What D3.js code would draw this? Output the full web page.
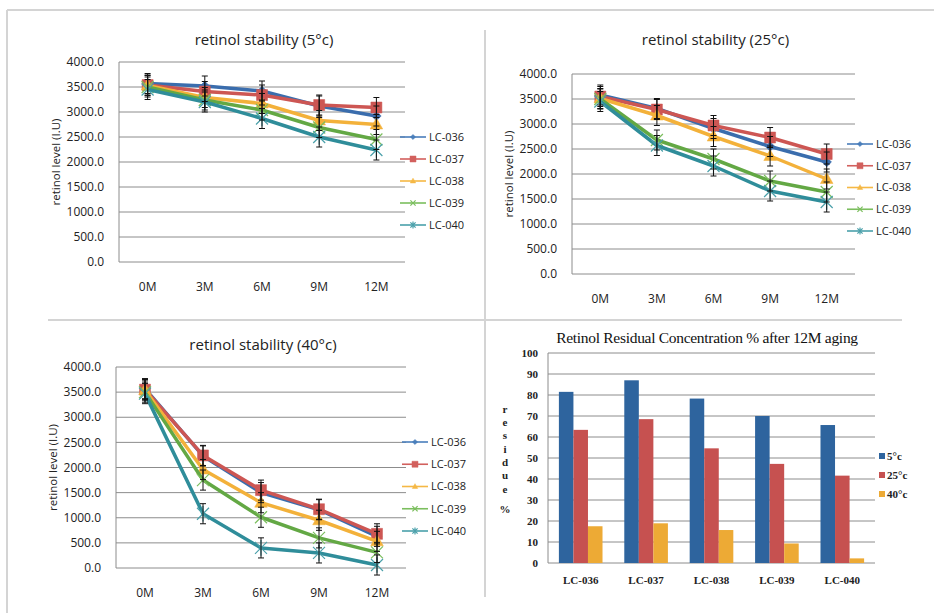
<!DOCTYPE html>
<html>
<head>
<meta charset="utf-8">
<script src="https://cdn.jsdelivr.net/npm/d3@7"></script>
<style>
  body { margin: 0; background: #fff; }
  svg { display: block; }
</style>
</head>
<body>
<svg id="chart" width="934" height="613"></svg>
<script>
// months on the x axis and the five samples
let months = ['0M', '3M', '6M', '9M', '12M']
let samples = ['LC-036', 'LC-037', 'LC-038', 'LC-039', 'LC-040']

// retinol level (I.U), one row per sample
let level5 = [
  [3570, 3520, 3420, 3120, 2920],
  [3540, 3410, 3340, 3140, 3090],
  [3530, 3290, 3170, 2830, 2750],
  [3500, 3240, 3040, 2690, 2450],
  [3450, 3200, 2870, 2500, 2240]
]
let level25 = [
  [3580, 3310, 2910, 2550, 2240],
  [3550, 3290, 2970, 2730, 2400],
  [3510, 3170, 2750, 2360, 1900],
  [3500, 2680, 2300, 1860, 1640],
  [3450, 2570, 2160, 1660, 1440]
]
let level40 = [
  [3570, 2230, 1500, 1160, 630],
  [3550, 2240, 1550, 1170, 680],
  [3540, 1960, 1300, 950, 530],
  [3500, 1750, 1010, 600, 310],
  [3470, 1080, 400, 300, 60]
]
let errorValue = 200
let levelTicks = [0, 500, 1000, 1500, 2000, 2500, 3000, 3500, 4000]

// residue % after 12M
let temps = ['5°c', '25°c', '40°c']
let residue5 = [81.5, 87.0, 78.3, 70.0, 65.7]
let residue25 = [63.4, 68.5, 54.6, 47.2, 41.6]
let residue40 = [17.5, 18.9, 15.7, 9.3, 2.2]
let residueTicks = [0, 10, 20, 30, 40, 50, 60, 70, 80, 90, 100]

let lineColors = ['#3A6DAD', '#CD5653', '#F3B13A', '#63A844', '#2F8D9A']
let legendColors = ['#4A7EBB', '#D2605D', '#F5B845', '#7BBE5E', '#4AA0AA']
let barColors = ['#2E649E', '#C65150', '#EDAA35']
let markers = ['diamond', 'square', 'triangle', 'x', 'star']

let svg = d3.select('#chart')
let sans = "'Open Sans', sans-serif"
let serif = "'Liberation Serif', 'Times New Roman', serif"

// frame lines around the four panels
let frame = [
  [7, 10, 934, 10],
  [7, 10, 7, 613],
  [485, 30, 485, 597],
  [48, 320, 902, 320]
]
svg.selectAll('.frame')
  .data(frame)
  .enter()
  .append('line')
  .attr('x1', d => d[0]).attr('y1', d => d[1])
  .attr('x2', d => d[2]).attr('y2', d => d[3])
  .attr('stroke', '#d4d4d4')
  .attr('stroke-width', 2)

function markerPath(type, s) {
  if (type === 'diamond') return `M0,${-s}L${s},0L0,${s}L${-s},0Z`
  if (type === 'square') return `M${-s},${-s}H${s}V${s}H${-s}Z`
  if (type === 'triangle') return `M0,${-s * 1.1}L${s * 1.05},${s * 0.75}L${-s * 1.05},${s * 0.75}Z`
  if (type === 'x') return `M${-s},${-s}L${s},${s}M${-s},${s}L${s},${-s}`
  return `M${-s},${-s}L${s},${s}M${-s},${s}L${s},${-s}M0,${-s * 1.3}V${s * 1.3}`
}

function drawMarker(g, type, color, s) {
  let stroked = type === 'x' || type === 'star'
  g.append('path')
    .attr('d', markerPath(type, s))
    .attr('fill', stroked ? 'none' : color)
    .attr('stroke', color)
    .attr('stroke-width', stroked ? 1.2 : 0.5)
}

function drawLevelChart(p) {
  let g = svg.append('g')

  let x = d3.scaleBand().domain(months).range([p.left, p.right])
  let y = d3.scaleLinear().domain([0, 4000]).range([p.bottom, p.top])

  g.selectAll('.grid')
    .data(levelTicks)
    .enter()
    .append('line')
    .attr('x1', p.left).attr('x2', p.right)
    .attr('y1', d => y(d)).attr('y2', d => y(d))
    .attr('stroke', '#8c8c8c')
    .attr('stroke-width', 1)

  g.append('line')
    .attr('x1', p.left).attr('x2', p.left)
    .attr('y1', p.top).attr('y2', p.bottom)
    .attr('stroke', '#8c8c8c')

  g.selectAll('.ytick')
    .data(levelTicks)
    .enter()
    .append('text')
    .attr('x', p.left - 15)
    .attr('y', d => y(d))
    .attr('dy', '0.35em')
    .attr('text-anchor', 'end')
    .attr('font-family', sans)
    .attr('font-size', 12)
    .attr('fill', '#222')
    .text(d => d.toFixed(1))

  g.selectAll('.xtick')
    .data(months)
    .enter()
    .append('text')
    .attr('x', d => x(d) + x.bandwidth() / 2)
    .attr('y', p.bottom + 29)
    .attr('text-anchor', 'middle')
    .attr('font-family', sans)
    .attr('font-size', 12)
    .attr('fill', '#222')
    .text(d => d)

  g.append('text')
    .attr('x', (p.left + p.right) / 2 + 2)
    .attr('y', p.titleY)
    .attr('text-anchor', 'middle')
    .attr('font-family', sans)
    .attr('font-size', 15)
    .attr('fill', '#222')
    .text(p.title)

  g.append('text')
    .attr('transform', `translate(${p.left - 63},${(p.top + p.bottom) / 2}) rotate(-90)`)
    .attr('dy', '0.35em')
    .attr('text-anchor', 'middle')
    .attr('font-family', sans)
    .attr('font-size', 11.5)
    .attr('fill', '#222')
    .text('retinol level (I.U)')

  let line = d3.line()
    .x((d, i) => x(months[i]) + x.bandwidth() / 2)
    .y(d => y(d))

  p.values.forEach((row, k) => {
    let color = lineColors[k]
    g.append('path')
      .datum(row)
      .attr('d', line)
      .attr('fill', 'none')
      .attr('stroke', color)
      .attr('stroke-width', 3.5)
      .attr('stroke-linejoin', 'round')

    row.forEach((v, i) => {
      let m = g.append('g')
        .attr('transform', `translate(${x(months[i]) + x.bandwidth() / 2},${y(v)})`)
      let size = markers[k] === 'square' ? 5.5 : markers[k] === 'diamond' ? 4.8 : 6
      drawMarker(m, markers[k], k >= 3 ? legendColors[k] : color, size)
    })
  })

  // error bars
  p.values.forEach(row => {
    row.forEach((v, i) => {
      let cx = x(months[i]) + x.bandwidth() / 2
      let eb = g.append('g').attr('stroke', '#111').attr('stroke-width', 1)
      eb.append('line').attr('x1', cx).attr('x2', cx)
        .attr('y1', y(v + errorValue)).attr('y2', y(v - errorValue))
      eb.append('line').attr('x1', cx - 3).attr('x2', cx + 3)
        .attr('y1', y(v + errorValue)).attr('y2', y(v + errorValue))
      eb.append('line').attr('x1', cx - 3).attr('x2', cx + 3)
        .attr('y1', y(v - errorValue)).attr('y2', y(v - errorValue))
    })
  })

  // legend
  samples.forEach((name, k) => {
    let ly = p.legendY + k * p.legendStep
    g.append('line')
      .attr('x1', p.legendX).attr('x2', p.legendX + 26)
      .attr('y1', ly).attr('y2', ly)
      .attr('stroke', legendColors[k])
      .attr('stroke-width', 1.6)
    let m = g.append('g').attr('transform', `translate(${p.legendX + 13},${ly})`)
    drawMarker(m, markers[k], legendColors[k], markers[k] === 'square' ? 3 : 2.6)
    g.append('text')
      .attr('x', p.legendX + 29)
      .attr('y', ly)
      .attr('dy', '0.35em')
      .attr('font-family', sans)
      .attr('font-size', 11)
      .attr('fill', '#222')
      .text(name)
  })
}

drawLevelChart({
  title: 'retinol stability (5°c)', values: level5,
  left: 119, right: 405, top: 62, bottom: 262, titleY: 45,
  legendX: 400, legendY: 137, legendStep: 22
})
drawLevelChart({
  title: 'retinol stability (25°c)', values: level25,
  left: 572, right: 855, top: 74, bottom: 274, titleY: 45,
  legendX: 847, legendY: 144, legendStep: 21.75
})
drawLevelChart({
  title: 'retinol stability (40°c)', values: level40,
  left: 116, right: 406, top: 367, bottom: 568, titleY: 350,
  legendX: 402, legendY: 442, legendStep: 22.25
})

// residue bar chart
function drawResidueChart() {
  let p = { left: 548, right: 875, top: 353, bottom: 563 }
  let g = svg.append('g')
  let residues = [residue5, residue25, residue40]

  let x = d3.scaleBand().domain(samples).range([p.left, p.right]).paddingInner(0.333).paddingOuter(0.1665)
  let xi = d3.scaleBand().domain(temps).range([0, x.bandwidth()])
  let y = d3.scaleLinear().domain([0, 100]).range([p.bottom, p.top])

  g.selectAll('.grid')
    .data(residueTicks)
    .enter()
    .append('line')
    .attr('x1', p.left).attr('x2', p.right)
    .attr('y1', d => y(d)).attr('y2', d => y(d))
    .attr('stroke', '#8c8c8c')

  g.append('line')
    .attr('x1', p.left).attr('x2', p.left)
    .attr('y1', p.top).attr('y2', p.bottom)
    .attr('stroke', '#8c8c8c')

  samples.forEach((name, i) => {
    temps.forEach((t, k) => {
      let v = residues[k][i]
      g.append('rect')
        .attr('x', x(name) + xi(t))
        .attr('y', y(v))
        .attr('width', xi.bandwidth())
        .attr('height', y(0) - y(v))
        .attr('fill', barColors[k])
    })
  })

  g.selectAll('.ytick')
    .data(residueTicks)
    .enter()
    .append('text')
    .attr('x', p.left - 10)
    .attr('y', d => y(d))
    .attr('dy', '0.35em')
    .attr('text-anchor', 'end')
    .attr('font-family', serif)
    .attr('font-weight', 'bold')
    .attr('font-size', 11)
    .attr('fill', '#222')
    .text(d => d)

  g.selectAll('.xtick')
    .data(samples)
    .enter()
    .append('text')
    .attr('x', d => x(d) + x.bandwidth() / 2)
    .attr('y', p.bottom + 21)
    .attr('text-anchor', 'middle')
    .attr('font-family', serif)
    .attr('font-weight', 'bold')
    .attr('font-size', 11)
    .attr('fill', '#222')
    .text(d => d)

  g.append('text')
    .attr('x', 707)
    .attr('y', 343)
    .attr('text-anchor', 'middle')
    .attr('font-family', serif)
    .attr('font-size', 15.5)
    .attr('letter-spacing', -0.3)
    .attr('fill', '#111')
    .text('Retinol Residual Concentration % after 12M aging')

  // stacked vertical axis title
  let cy = 409
  'residue %'.split('').forEach(ch => {
    if (ch === ' ') { cy += 7; return }
    g.append('text')
      .attr('x', 505)
      .attr('y', cy)
      .attr('dy', '0.35em')
      .attr('text-anchor', 'middle')
      .attr('font-family', serif)
      .attr('font-weight', 'bold')
      .attr('font-size', 11)
      .attr('fill', '#222')
      .text(ch)
    cy += 13.3
  })

  temps.forEach((t, k) => {
    let ly = 456 + k * 19
    g.append('rect')
      .attr('x', 879).attr('y', ly - 3)
      .attr('width', 6).attr('height', 6)
      .attr('fill', barColors[k])
    g.append('text')
      .attr('x', 887).attr('y', ly)
      .attr('dy', '0.35em')
      .attr('font-family', serif)
      .attr('font-weight', 'bold')
      .attr('font-size', 11)
      .attr('fill', '#222')
      .text(t)
  })
}
drawResidueChart()
</script>
</body>
</html>
